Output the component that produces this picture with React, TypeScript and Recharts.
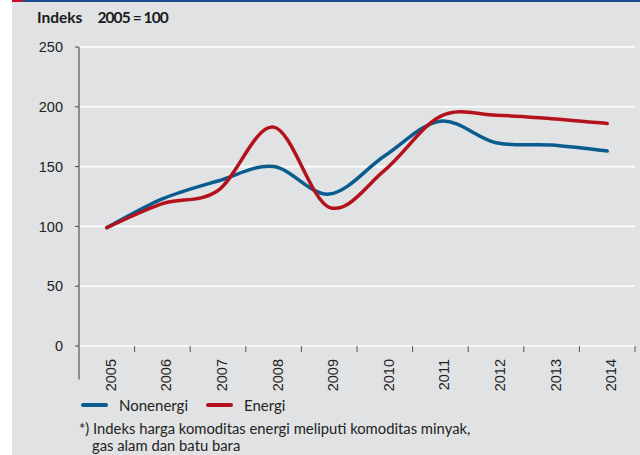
import React from "react";
import { LineChart, Line, XAxis, YAxis, CartesianGrid, ReferenceLine } from "recharts";

const years = ["2005", "2006", "2007", "2008", "2009", "2010", "2011", "2012", "2013", "2014"];
const nonenergi = [99, 123, 138, 150, 127, 159, 188, 170, 168, 163];
const energi = [99, 119, 130, 183, 116, 147, 192, 193, 190, 186];
const yTicks = [0, 50, 100, 150, 200, 250];
const boundaryTicks = [1, 2, 3, 4, 5, 6, 7, 8, 9, 10];
const seriesNames = ["Nonenergi", "Energi"];
const seriesColors = ["#0a5c8e", "#b3121d"];

const data = years.map((y, i) => ({ x: i + 0.5, year: y, non: nonenergi[i], en: energi[i] }));

// Excel-like smoothing (Catmull-Rom via Bezier)
const smooth = (context: any) => {
  let pts: number[][] = [];
  return {
    areaStart() {},
    areaEnd() {},
    lineStart() {
      pts = [];
    },
    point(x: number, y: number) {
      pts.push([+x, +y]);
    },
    lineEnd() {
      const n = pts.length;
      if (!n) return;
      context.moveTo(pts[0][0], pts[0][1]);
      for (let i = 0; i < n - 1; i++) {
        const p0 = pts[Math.max(0, i - 1)];
        const p1 = pts[i];
        const p2 = pts[i + 1];
        const p3 = pts[Math.min(n - 1, i + 2)];
        context.bezierCurveTo(
          p1[0] + (p2[0] - p0[0]) / 6,
          p1[1] + (p2[1] - p0[1]) / 6,
          p2[0] - (p3[0] - p1[0]) / 6,
          p2[1] - (p3[1] - p1[1]) / 6,
          p2[0],
          p2[1]
        );
      }
    },
  };
};

const YearTick = (props: any) => {
  const { x, y, payload } = props;
  const label = years[Math.floor(payload.value)];
  return (
    <text
      x={x + 4}
      y={y + 5}
      transform={`rotate(-90, ${x + 4}, ${y + 5})`}
      textAnchor="end"
      dominantBaseline="central"
      fontFamily="'Liberation Sans', Arial, sans-serif"
      fontSize={14.5}
      fill="#222"
    >
      {label}
    </text>
  );
};

export default function App() {
  return (
    <div style={{ position: "fixed", left: 0, top: 0, width: 640, height: 455, background: "#fff", overflow: "hidden" }}>
      <div style={{ position: "absolute", left: 12, top: 1, width: 628, height: 454, background: "#e1e2e4" }} />
      <div style={{ position: "absolute", left: 12, top: 0, width: 11, height: 1.5, background: "#c8102e" }} />
      <div style={{ position: "absolute", left: 23, top: 0, width: 617, height: 1.5, background: "#1c4b8c" }} />
      <div
        style={{
          position: "absolute",
          left: 37,
          top: 8,
          fontFamily: "Lato, 'Open Sans', sans-serif",
          fontWeight: 700,
          fontSize: 15.5,
          color: "#1a1a1a",
          whiteSpace: "pre",
        }}
      >
        <span>Indeks</span>
        <span style={{ marginLeft: 15, letterSpacing: -0.9 }}>2005 = 100</span>
      </div>
      <div style={{ position: "absolute", left: 0, top: 0 }}>
        <LineChart width={640} height={455} data={data} margin={{ top: 47, right: 5, left: 0, bottom: 69 }}>
          <CartesianGrid vertical={false} stroke="#ffffff" strokeWidth={1.6} />
          <XAxis
            dataKey="x"
            type="number"
            domain={[0, 10]}
            ticks={data.map((d) => d.x)}
            tick={<YearTick />}
            tickLine={false}
            axisLine={false}
            height={40}
            interval={0}
          />
          <YAxis
            domain={[0, 250]}
            ticks={yTicks}
            width={79}
            axisLine={false}
            tickLine={{ stroke: "#444", strokeWidth: 1 }}
            tickSize={4}
            tickMargin={12}
            tick={{ fontFamily: "'Liberation Sans', Arial, sans-serif", fontSize: 14.5, fill: "#222" }}
          />
          <ReferenceLine
            segment={[
              { x: 0, y: 250 },
              { x: 0, y: -28 },
            ]}
            stroke="#555"
            strokeWidth={1.2}
            ifOverflow="visible"
          />
          {boundaryTicks.map((b) => (
            <ReferenceLine
              key={b}
              segment={[
                { x: b, y: 0 },
                { x: b, y: -5 },
              ]}
              stroke="#555"
              strokeWidth={1}
              ifOverflow="visible"
            />
          ))}
          <Line
            dataKey="non"
            name={seriesNames[0]}
            type={smooth as any}
            stroke={seriesColors[0]}
            strokeWidth={3.5}
            dot={false}
            activeDot={false}
            isAnimationActive={false}
            strokeLinecap="round"
          />
          <Line
            dataKey="en"
            name={seriesNames[1]}
            type={smooth as any}
            stroke={seriesColors[1]}
            strokeWidth={3.5}
            dot={false}
            activeDot={false}
            isAnimationActive={false}
            strokeLinecap="round"
          />
        </LineChart>
      </div>
      <div
        style={{
          position: "absolute",
          left: 81,
          top: 395,
          height: 20,
          display: "flex",
          alignItems: "center",
          fontFamily: "Lato, 'Open Sans', sans-serif",
          fontSize: 15,
          color: "#222",
        }}
      >
        {seriesNames.map((n, i) => (
          <div key={n} style={{ display: "flex", alignItems: "center", marginRight: 18 }}>
            <div style={{ width: 27, height: 4, borderRadius: 2, background: seriesColors[i], marginRight: 11 }} />
            <span>{n}</span>
          </div>
        ))}
      </div>
      <div
        style={{
          position: "absolute",
          left: 79,
          top: 420,
          fontFamily: "Lato, 'Open Sans', sans-serif",
          fontSize: 14.8,
          lineHeight: "17px",
          color: "#222",
        }}
      >
        <div>*) Indeks harga komoditas energi meliputi komoditas minyak,</div>
        <div style={{ paddingLeft: 13 }}>gas alam dan batu bara</div>
      </div>
    </div>
  );
}
